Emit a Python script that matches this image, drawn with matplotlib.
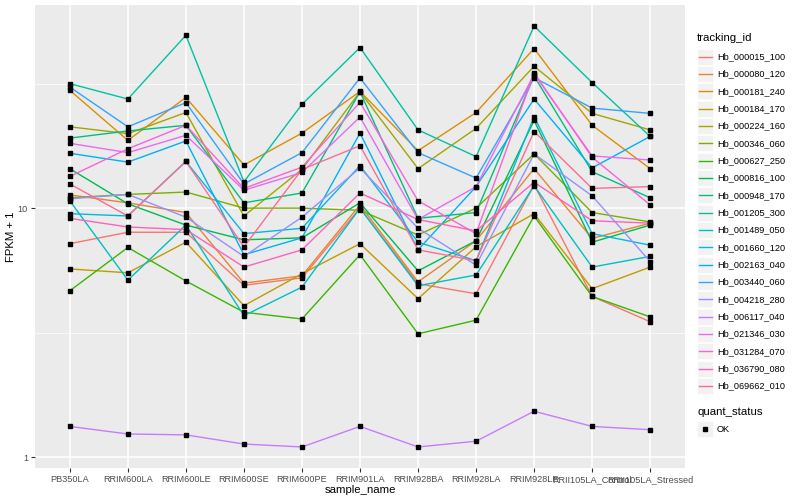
import numpy as np
import matplotlib.pyplot as plt
from matplotlib.lines import Line2D
from matplotlib.patches import Rectangle
from matplotlib.ticker import FixedLocator, NullFormatter, NullLocator

plt.rcParams['font.family'] = ['Liberation Sans', 'DejaVu Sans']

# samples in the order they appear on the x axis
samples = ['PB350LA', 'RRIM600LA', 'RRIM600LE', 'RRIM600SE', 'RRIM600PE', 'RRIM901LA',
           'RRIM928BA', 'RRIM928LA', 'RRIM928LE', 'RRII105LA_Control', 'RRII105LA_Stressed']

tracking_ids = ['Hb_000015_100', 'Hb_000080_120', 'Hb_000181_240', 'Hb_000184_170',
                'Hb_000224_160', 'Hb_000346_060', 'Hb_000627_250', 'Hb_000816_100',
                'Hb_000948_170', 'Hb_001205_300', 'Hb_001489_050', 'Hb_001660_120',
                'Hb_002163_040', 'Hb_003440_060', 'Hb_004218_280', 'Hb_006117_040',
                'Hb_021346_030', 'Hb_031284_070', 'Hb_036790_080', 'Hb_069662_010']

# FPKM + 1 per gene
hb_000015_100 = [7.2, 8.0, 8.0, 4.9, 5.25, 10.0, 4.97, 4.53, 12.4, 4.42, 3.5]
hb_000080_120 = [11.3, 10.5, 9.6, 5.0, 5.35, 10.3, 5.06, 7.4, 14.4, 7.56, 8.7]
hb_000181_240 = [29.7, 18.7, 27.8, 14.9, 20.0, 29.4, 17.0, 24.2, 43.7, 21.5, 14.4]
hb_000184_170 = [5.7, 5.5, 7.3, 4.06, 5.45, 7.2, 4.33, 7.0, 9.5, 4.75, 5.8]
hb_000224_160 = [21.2, 19.9, 24.2, 9.3, 14.3, 29.3, 14.4, 20.9, 37.1, 24.0, 20.6]
hb_000346_060 = [11.0, 11.35, 11.6, 10.0, 10.0, 9.8, 7.8, 10.0, 16.5, 9.6, 8.8]
hb_000627_250 = [4.66, 6.95, 5.1, 3.82, 3.59, 6.5, 3.13, 3.55, 9.3, 4.42, 3.66]
hb_000816_100 = [14.4, 10.4, 8.55, 7.46, 7.6, 10.5, 5.6, 7.4, 22.5, 7.3, 8.55]
hb_000948_170 = [19.1, 20.4, 21.5, 10.5, 11.5, 29.3, 9.1, 9.6, 33.9, 14.0, 11.0]
hb_001205_300 = [31.6, 27.4, 49.4, 12.75, 26.1, 44.1, 20.6, 16.1, 53.8, 31.9, 19.4]
hb_001489_050 = [10.7, 5.14, 8.55, 3.7, 4.82, 10.0, 4.88, 5.39, 12.3, 5.8, 6.4]
hb_001660_120 = [9.5, 9.3, 15.4, 7.9, 8.3, 14.8, 7.3, 6.15, 23.3, 7.9, 7.1]
hb_002163_040 = [16.6, 15.3, 18.6, 6.5, 7.6, 20.0, 6.8, 12.2, 27.4, 14.5, 19.4]
hb_003440_060 = [30.6, 21.2, 26.5, 12.5, 16.7, 33.3, 16.7, 13.2, 33.4, 25.2, 24.0]
hb_004218_280 = [10.9, 11.35, 9.2, 6.4, 9.2, 14.5, 8.3, 5.9, 16.5, 11.2, 6.1]
hb_006117_040 = [1.33, 1.24, 1.23, 1.13, 1.10, 1.33, 1.10, 1.16, 1.53, 1.33, 1.29]
hb_021346_030 = [18.2, 16.7, 19.6, 11.8, 13.9, 23.2, 9.0, 12.2, 34.5, 16.2, 15.6]
hb_031284_070 = [13.4, 17.3, 21.5, 12.0, 14.6, 26.6, 10.7, 7.9, 34.9, 16.0, 10.3]
hb_036790_080 = [9.1, 8.4, 8.2, 5.8, 6.8, 11.5, 9.0, 8.1, 12.7, 8.9, 8.7]
hb_069662_010 = [12.5, 9.3, 15.4, 6.98, 14.3, 17.8, 6.8, 6.15, 20.3, 12.0, 12.2]

series = [hb_000015_100, hb_000080_120, hb_000181_240, hb_000184_170, hb_000224_160,
          hb_000346_060, hb_000627_250, hb_000816_100, hb_000948_170, hb_001205_300,
          hb_001489_050, hb_001660_120, hb_002163_040, hb_003440_060, hb_004218_280,
          hb_006117_040, hb_021346_030, hb_031284_070, hb_036790_080, hb_069662_010]

# ggplot default hue palette for 20 groups
colors = ['#F8766D', '#EA8331', '#D89000', '#C09B00', '#A3A500', '#7CAE00', '#39B600',
          '#00BB4E', '#00BF7D', '#00C1A3', '#00BFC4', '#00BAE0', '#00B0F6', '#35A2FF',
          '#9590FF', '#C77CFF', '#E76BF3', '#FA62DB', '#FF62BC', '#FF6C91']

W, H = 800, 500
fig = plt.figure(figsize=(8, 5), dpi=100)
ax = fig.add_axes([35 / W, 1 - 468 / H, 650 / W, 463 / H])
ax.set_facecolor('#EBEBEB')

x = np.arange(len(samples))
for vals, col in zip(series, colors):
    ax.plot(x, vals, color=col, lw=1.0, zorder=2)
for vals in series:
    ax.plot(x, vals, ls='none', marker='s', ms=2.2, color='black', zorder=3)

ax.set_yscale('log')
ax.set_xlim(-0.6, len(samples) - 0.4)
ax.yaxis.set_major_locator(FixedLocator([1, 10]))
ax.yaxis.set_minor_locator(FixedLocator([10 ** 0.5, 10 ** 1.5]))
ax.yaxis.set_minor_formatter(NullFormatter())
ax.set_yticklabels(['1', '10'])
ax.set_xticks(x)
ax.set_xticklabels(samples)
ax.xaxis.set_minor_locator(NullLocator())

ax.grid(which='major', color='white', lw=1.1, zorder=0)
ax.grid(which='minor', axis='y', color='white', lw=0.5, zorder=0)
ax.set_axisbelow(True)
for s in ax.spines.values():
    s.set_visible(False)
ax.tick_params(which='major', length=3, width=0.8, color='#333333', labelsize=6.6,
               labelcolor='#4D4D4D', pad=2)
ax.tick_params(which='minor', length=0)

ax.set_xlabel('sample_name', fontsize=8.2, labelpad=1)
ax.set_ylabel('FPKM + 1', fontsize=8.2, labelpad=1)


# legends drawn by hand so the keys get ggplot's grey boxes
def fx(px):
    return px / W


def fy(py):
    return 1 - py / H


fig.text(fx(697), fy(38), 'tracking_id', fontsize=8.2, va='center', ha='left')
y0, step = 56.7, 17.33
for i, (name, col) in enumerate(zip(tracking_ids, colors)):
    yc = y0 + i * step
    fig.patches.append(Rectangle((fx(697), fy(yc + 8)), 16 / W, 16 / H,
                                 transform=fig.transFigure, facecolor='#F2F2F2',
                                 edgecolor='white', lw=0.5))
    fig.lines.append(Line2D([fx(698.5), fx(711.5)], [fy(yc), fy(yc)],
                            transform=fig.transFigure, color=col, lw=1.0))
    fig.text(fx(717), fy(yc), name, fontsize=6.6, va='center', ha='left')

fig.text(fx(697), fy(411.7), 'quant_status', fontsize=8.2, va='center', ha='left')
fig.patches.append(Rectangle((fx(697), fy(437.3)), 16 / W, 16 / H,
                             transform=fig.transFigure, facecolor='#F2F2F2',
                             edgecolor='white', lw=0.5))
fig.lines.append(Line2D([fx(705)], [fy(429.3)], transform=fig.transFigure,
                        marker='s', ms=2.2, color='black', ls='none'))
fig.text(fx(717), fy(429.3), 'OK', fontsize=6.6, va='center', ha='left')

fig.savefig('out.png', dpi=100)
